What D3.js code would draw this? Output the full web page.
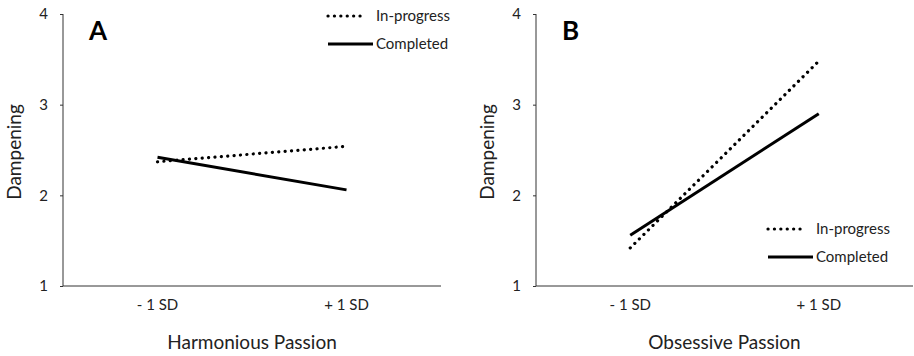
<!DOCTYPE html>
<html>
<head>
<meta charset="utf-8">
<script src="https://cdn.jsdelivr.net/npm/d3@7"></script>
<style>
  body { margin: 0; background: #fff; }
  svg text { font-family: Lato, "Open Sans", sans-serif; fill: #222; }
</style>
</head>
<body>
<svg id="chart" width="914" height="356"></svg>
<script>
var categories = ["- 1 SD", "+ 1 SD"];
var yTicks = [1, 2, 3, 4];

// panel A: harmonious passion
var harmInProgress = [2.37, 2.54];
var harmCompleted = [2.42, 2.06];

// panel B: obsessive passion
var obsInProgress = [1.42, 3.48];
var obsCompleted = [1.56, 2.90];

var panels = [
    {letter: "A", title: "Harmonious Passion", left: 63, right: 441,
     inprog: harmInProgress, compl: harmCompleted, legend: {x: 328, y: 16, w1: 38, w2: 45}},
    {letter: "B", title: "Obsessive Passion", left: 536, right: 913,
     inprog: obsInProgress, compl: obsCompleted, legend: {x: 768, y: 229, w1: 37, w2: 45}}
];

var svg = d3.select("#chart");
var plotTop = 14, plotBottom = 286;
var dots = "0.1,6.3";

var y = d3.scaleLinear()
    .domain([1, 4])
    .range([plotBottom, plotTop]);

panels.forEach(function(p) {
    var g = svg.append("g");

    var x = d3.scaleBand()
        .domain(categories)
        .range([p.left, p.right]);

    var cx = d => x(d) + x.bandwidth() / 2;

    // y axis
    g.append("g")
        .attr("transform", `translate(${p.left},0)`)
        .call(d3.axisLeft(y).tickValues(yTicks).tickSize(3).tickPadding(12).tickFormat(d3.format("d")))
        .call(a => a.select(".domain").attr("d", `M0,${plotTop}V${plotBottom}`))
        .call(a => a.selectAll("line, path").attr("stroke", "#333"))
        .call(a => a.selectAll("text").attr("font-size", 15).attr("font-family", null));

    // x axis
    g.append("g")
        .attr("transform", `translate(0,${plotBottom})`)
        .call(d3.axisBottom(x).tickSize(0).tickPadding(13))
        .call(a => a.select(".domain").attr("d", `M${p.left},0H${p.right}`).attr("stroke", "#333"))
        .call(a => a.selectAll("text").attr("font-size", 15).attr("font-family", null));

    g.append("text")
        .attr("x", (p.left + p.right) / 2)
        .attr("y", 349)
        .attr("text-anchor", "middle")
        .attr("font-size", 19)
        .text(p.title);

    g.append("text")
        .attr("text-anchor", "middle")
        .attr("transform", `translate(${p.left - 42},${(plotTop + plotBottom) / 2 + 2}) rotate(-90)`)
        .attr("font-size", 19)
        .text("Dampening");

    g.append("text")
        .attr("x", p.left + 26)
        .attr("y", 40)
        .attr("font-family", "Liberation Sans, Arial, sans-serif")
        .attr("font-weight", "bold")
        .attr("font-size", 26)
        .style("fill", "#000")
        .text(p.letter);

    var line = d3.line()
        .x((d, i) => cx(categories[i]))
        .y(d => y(d));

    g.append("path")
        .datum(p.inprog)
        .attr("d", line)
        .attr("fill", "none")
        .attr("stroke", "#000")
        .attr("stroke-width", 3.2)
        .attr("stroke-linecap", "round")
        .attr("stroke-dasharray", dots);

    g.append("path")
        .datum(p.compl)
        .attr("d", line)
        .attr("fill", "none")
        .attr("stroke", "#000")
        .attr("stroke-width", 3);

    // legend
    var lg = p.legend;
    g.append("line")
        .attr("x1", lg.x).attr("x2", lg.x + lg.w1)
        .attr("y1", lg.y).attr("y2", lg.y)
        .attr("stroke", "#000").attr("stroke-width", 3.2)
        .attr("stroke-linecap", "round")
        .attr("stroke-dasharray", dots);
    g.append("text")
        .attr("x", lg.x + 48).attr("y", lg.y + 5)
        .attr("font-size", 15)
        .text("In-progress");
    g.append("line")
        .attr("x1", lg.x).attr("x2", lg.x + lg.w2)
        .attr("y1", lg.y + 28).attr("y2", lg.y + 28)
        .attr("stroke", "#000").attr("stroke-width", 3);
    g.append("text")
        .attr("x", lg.x + 48).attr("y", lg.y + 33)
        .attr("font-size", 15)
        .text("Completed");
});
</script>
</body>
</html>
